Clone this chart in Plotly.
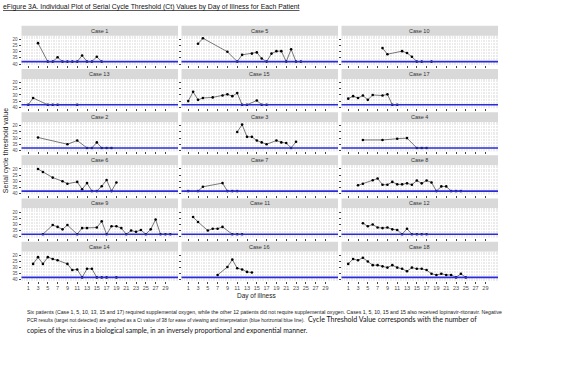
import plotly.graph_objects as go

W, H = 566, 367

# ---------------- data ----------------
PANEL_ORDER = [[1, 5, 10], [13, 15, 17], [2, 3, 4], [6, 7, 8], [9, 11, 12], [14, 16, 18]]
DAY_TICKS = list(range(1, 30, 2))
CT_TICKS = [20, 25, 30, 35, 40]
NEG_CT = 38

CASE1_DAYS = [3, 5, 6, 7, 8, 9, 10, 11, 12, 13, 14, 15, 16]
CASE1_CT = [23, 38, 38, 34.5, 38, 38, 38, 38, 33, 38, 38, 34, 38]
CASE5_DAYS = [3, 4, 9, 11, 12, 14, 15, 16, 17, 18, 19, 20, 21, 22, 23, 24]
CASE5_CT = [23.5, 19, 30, 38, 32.5, 31.5, 30.5, 35.5, 38, 31.5, 29.5, 29.5, 38, 28, 38, 38]
CASE10_DAYS = [8, 9, 12, 13, 14, 15, 16, 18]
CASE10_CT = [27, 32, 29.5, 31, 34, 38, 38, 38]
CASE13_DAYS = [1, 2, 5, 6, 7, 11]
CASE13_CT = [38, 32.5, 38, 38, 38, 38]
CASE15_DAYS = [1, 2, 3, 4, 6, 8, 9, 10, 11, 12, 13, 15, 16, 17]
CASE15_CT = [35, 27.5, 34, 32.5, 32, 30.5, 29.5, 31, 28.5, 38, 38, 34.5, 38, 38]
CASE17_DAYS = [1, 2, 3, 4, 5, 6, 8, 9, 10, 11]
CASE17_CT = [33, 31, 32.5, 30.5, 34, 30, 30.5, 29.5, 38, 38]
CASE2_DAYS = [3, 9, 11, 13, 14, 15, 16, 17, 18]
CASE2_CT = [29.5, 35, 32, 38, 38, 33.5, 38, 38, 38]
CASE3_DAYS = [11, 12, 13, 14, 15, 16, 17, 19, 20, 21, 22, 23]
CASE3_CT = [25, 19, 29, 29, 32, 33.5, 35, 32, 33.5, 34, 38, 33]
CASE4_DAYS = [4, 8, 11, 13, 15, 16, 17]
CASE4_CT = [31.5, 31.5, 30.5, 30, 38, 38, 38]
CASE6_DAYS = [3, 4, 6, 8, 9, 11, 12, 13, 14, 15, 16, 17, 18, 19]
CASE6_CT = [20, 22.5, 27, 30, 32, 30.5, 36.5, 31.5, 38, 38, 34, 29, 38, 31]
CASE7_DAYS = [1, 3, 4, 8, 9, 10, 11]
CASE7_CT = [38, 38, 34.5, 31.5, 38, 38, 38]
CASE8_DAYS = [3, 4, 6, 7, 8, 9, 10, 11, 12, 13, 14, 15, 16, 17, 18, 19, 20, 21, 22, 23, 24]
CASE8_CT = [33.3, 32, 29.2, 27.8, 32.8, 32.8, 30.5, 32.5, 32.5, 31.7, 32.8, 29.4, 31.7, 29.4, 31, 38, 34.2, 34.2, 38, 38, 38]
CASE9_DAYS = [4, 6, 7, 8, 9, 11, 12, 13, 15, 16, 17, 18, 19, 20, 21, 22, 23, 24, 25, 26, 27, 28, 29, 30]
CASE9_CT = [38, 30.5, 32, 34, 30.5, 38, 33, 33, 32.5, 27.5, 38, 31.5, 31.5, 33, 38, 35, 36, 34.5, 38, 34, 26, 38, 38, 38]
CASE11_DAYS = [2, 3, 5, 6, 7, 8, 10, 11, 12]
CASE11_CT = [24, 28, 35, 33.5, 33.5, 32, 38, 38, 38]
CASE12_DAYS = [4, 5, 6, 7, 8, 9, 10, 11, 12, 13, 14, 15, 16, 17]
CASE12_CT = [29, 31.5, 30, 32.5, 33, 32.5, 34, 34.5, 38, 33.5, 38, 38, 38, 38]
CASE14_DAYS = [2, 3, 4, 5, 6, 7, 9, 10, 11, 12, 13, 14, 15, 16, 17, 19]
CASE14_CT = [27, 21.5, 27, 21.5, 23, 24, 27, 32, 31.5, 38, 31, 31, 38, 38, 38, 38]
CASE16_DAYS = [7, 9, 10, 11, 12, 13, 14]
CASE16_CT = [36, 29.5, 23.5, 30.5, 31.5, 33.5, 34]
CASE18_DAYS = [1, 2, 3, 4, 5, 6, 7, 8, 9, 10, 11, 12, 13, 14, 15, 16, 17, 18, 19, 20, 21, 22, 23, 24, 25]
CASE18_CT = [27, 23, 24, 22, 25, 28, 28, 29, 30, 28, 30, 31, 33, 30, 31, 31, 32, 35, 36, 35, 36, 36, 38, 35, 38]

CASE_DAYS = {1: CASE1_DAYS, 2: CASE2_DAYS, 3: CASE3_DAYS, 4: CASE4_DAYS, 5: CASE5_DAYS,
             6: CASE6_DAYS, 7: CASE7_DAYS, 8: CASE8_DAYS, 9: CASE9_DAYS, 10: CASE10_DAYS,
             11: CASE11_DAYS, 12: CASE12_DAYS, 13: CASE13_DAYS, 14: CASE14_DAYS, 15: CASE15_DAYS,
             16: CASE16_DAYS, 17: CASE17_DAYS, 18: CASE18_DAYS}
CASE_CT = {1: CASE1_CT, 2: CASE2_CT, 3: CASE3_CT, 4: CASE4_CT, 5: CASE5_CT,
           6: CASE6_CT, 7: CASE7_CT, 8: CASE8_CT, 9: CASE9_CT, 10: CASE10_CT,
           11: CASE11_CT, 12: CASE12_CT, 13: CASE13_CT, 14: CASE14_CT, 15: CASE15_CT,
           16: CASE16_CT, 17: CASE17_CT, 18: CASE18_CT}

# ---------------- geometry ----------------
FONT = "Liberation Sans"
COL_X0 = [21.5, 181.5, 341.5]
PANEL_W = 156.5
ROW_TOP0 = 26.0
ROW_STEP = 43.4
STRIP_H = 10.0
PANEL_H = 29.4
X_RANGE = [-0.37, 31.57]
Y_RANGE = [40.8, 17.0]

fig = go.Figure()
layout = dict(
    width=W, height=H, margin=dict(l=0, r=0, t=0, b=0),
    paper_bgcolor="white", plot_bgcolor="#EBEBEB", showlegend=False,
    font=dict(family=FONT, color="#222"),
)
shapes = []
annotations = []

k = 0
for r, row in enumerate(PANEL_ORDER):
    for c, case in enumerate(row):
        k += 1
        sfx = "" if k == 1 else str(k)
        x0 = COL_X0[c]
        x1 = x0 + PANEL_W
        st = ROW_TOP0 + r * ROW_STEP
        pt = st + STRIP_H
        pb = pt + PANEL_H
        bottom = (r == len(PANEL_ORDER) - 1)
        first_col = (c == 0)
        layout["xaxis" + sfx] = dict(
            domain=[x0 / W, x1 / W], anchor="y" + sfx, range=X_RANGE,
            tickmode="array", tickvals=DAY_TICKS,
            showticklabels=bottom, ticks="outside", ticklen=2, tickcolor="#444", tickwidth=0.6,
            tickfont=dict(size=5.5, color="#4D4D4D", family=FONT),
            showgrid=True, gridcolor="white", gridwidth=0.8,
            minor=dict(dtick=0.5, tick0=0, showgrid=True, gridcolor="white", gridwidth=0.4),
            zeroline=False, showline=False, fixedrange=True,
        )
        layout["yaxis" + sfx] = dict(
            domain=[1 - pb / H, 1 - pt / H], anchor="x" + sfx, range=Y_RANGE,
            tickmode="array", tickvals=CT_TICKS,
            showticklabels=first_col, ticks="outside", ticklen=2, tickcolor="#444", tickwidth=0.6,
            tickfont=dict(size=4.5, color="#4D4D4D", family=FONT),
            showgrid=True, gridcolor="white", gridwidth=0.8,
            minor=dict(dtick=2.5, tick0=0, showgrid=True, gridcolor="white", gridwidth=0.4),
            zeroline=False, showline=False, fixedrange=True,
        )
        # strip
        shapes.append(dict(type="rect", xref="paper", yref="paper",
                           x0=x0 / W, x1=x1 / W, y0=1 - pt / H, y1=1 - st / H,
                           fillcolor="#D9D9D9", line=dict(width=0), layer="below"))
        annotations.append(dict(text="Case %d" % case, xref="paper", yref="paper",
                                x=(x0 + x1) / 2 / W, y=1 - (st + STRIP_H / 2) / H,
                                showarrow=False, font=dict(size=5.5, color="#333", family=FONT),
                                xanchor="center", yanchor="middle"))
        # negative line
        shapes.append(dict(type="line", xref="x%s domain" % sfx, yref="y" + sfx,
                           x0=0, x1=1, y0=NEG_CT, y1=NEG_CT,
                           line=dict(color="#2B2BD9", width=1.6), layer="above"))
        fig.add_trace(go.Scatter(
            x=CASE_DAYS[case], y=CASE_CT[case], mode="lines+markers",
            xaxis="x" + sfx, yaxis="y" + sfx,
            line=dict(color="#222", width=0.6),
            marker=dict(color="black", size=2.6),
            cliponaxis=False,
        ))

# titles and notes
annotations += [
    dict(text="<u>eFigure 3A. Individual Plot of Serial Cycle Threshold (Ct) Values by Day of Illness for Each Patient</u>",
         xref="paper", yref="paper", x=1 / W, y=1 - 7 / H, xanchor="left", yanchor="middle",
         showarrow=False, font=dict(size=6.85, color="#111", family=FONT)),
    dict(text="Serial cycle threshold value", xref="paper", yref="paper",
         x=6 / W, y=1 - 152 / H, textangle=-90, xanchor="center", yanchor="middle",
         showarrow=False, font=dict(size=7, color="#222", family=FONT)),
    dict(text="Day of illness", xref="paper", yref="paper",
         x=256 / W, y=1 - 297.5 / H, xanchor="center", yanchor="middle",
         showarrow=False, font=dict(size=6.5, color="#222", family=FONT)),
    dict(text="Six patients (Case 1, 5, 10, 13, 15 and 17) required supplemental oxygen, while the other 12 patients did not require supplemental oxygen. Cases 1, 5, 10, 15 and 15 also received lopinavir-ritonavir. Negative",
         xref="paper", yref="paper", x=25 / W, y=1 - 313.5 / H, xanchor="left", yanchor="middle",
         showarrow=False, font=dict(size=5.2, color="#222", family=FONT)),
    dict(text="PCR results (target not detected) are graphed as a Ct value of 38 for ease of viewing and interpretation (blue horizontal blue line).",
         xref="paper", yref="paper", x=25 / W, y=1 - 322 / H, xanchor="left", yanchor="middle",
         showarrow=False, font=dict(size=4.85, color="#222", family=FONT)),
    dict(text="Cycle Threshold Value corresponds with the number of",
         xref="paper", yref="paper", x=306 / W, y=1 - 321.5 / H, xanchor="left", yanchor="middle",
         showarrow=False, font=dict(size=7.05, color="#111", family="Lato")),
    dict(text="copies of the virus in a biological sample, in an inversely proportional and exponential manner.",
         xref="paper", yref="paper", x=25 / W, y=1 - 332.5 / H, xanchor="left", yanchor="middle",
         showarrow=False, font=dict(size=6.85, color="#111", family="Lato")),
]

layout["shapes"] = shapes
layout["annotations"] = annotations
fig.update_layout(**layout)
fig.write_html("out.html", config={"displayModeBar": False},
               post_script="document.body.style.margin='0px';")
